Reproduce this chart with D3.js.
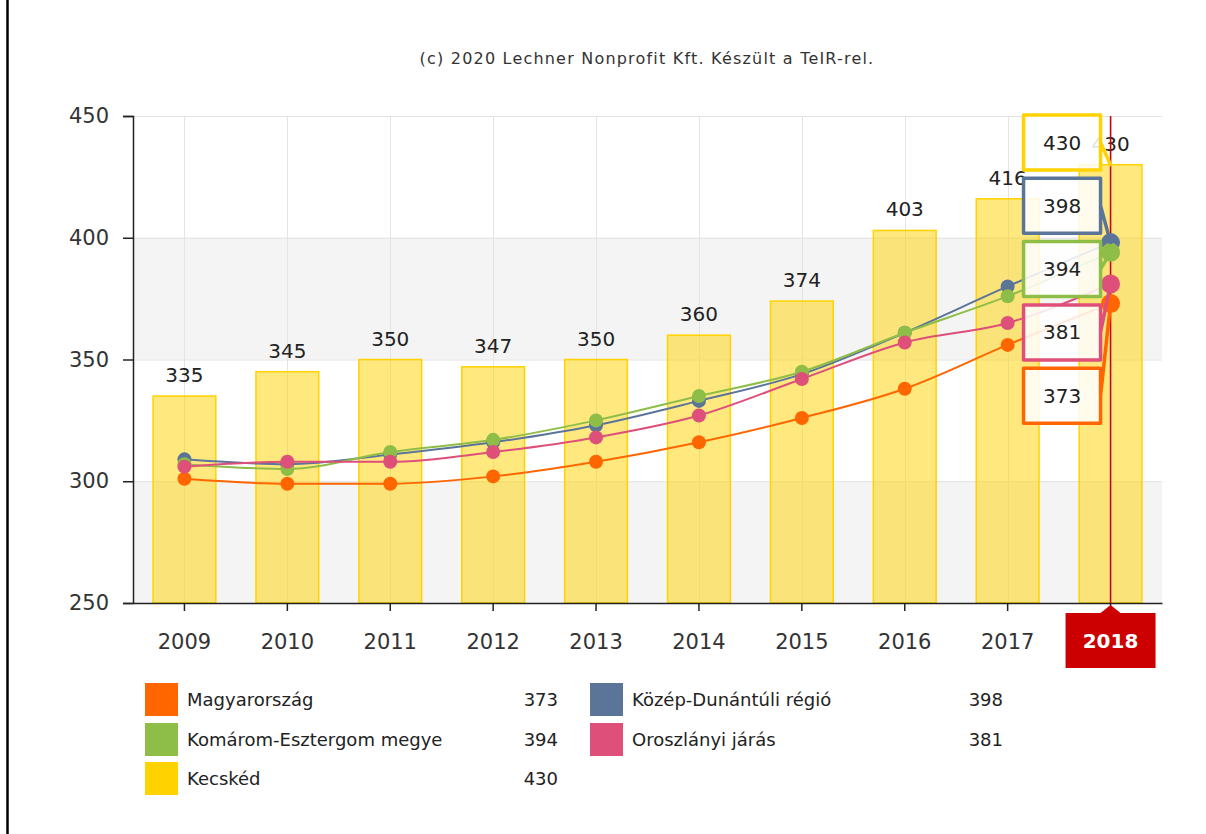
<!DOCTYPE html>
<html>
<head>
<meta charset="utf-8">
<script src="https://cdn.jsdelivr.net/npm/d3@7"></script>
<style>
  body { margin: 0; background: #fff; }
  svg { display: block; }
  text { font-family: "DejaVu Sans", Verdana, sans-serif; }
</style>
</head>
<body>
<svg id="chart" width="1206" height="834"></svg>
<script>
// ---- data ----
const years = ["2009", "2010", "2011", "2012", "2013", "2014", "2015", "2016", "2017", "2018"];
const kecsked = [335, 345, 350, 347, 350, 360, 374, 403, 416, 430];
const magyarorszag = [301, 299, 299, 302, 308, 316, 326, 338, 356, 373];
const kozepDunantuli = [309, 307, 311, 316, 323, 333, 344, 361, 380, 398];
const komarom = [307, 305, 312, 317, 325, 335, 345, 361, 376, 394];
const oroszlany = [306, 308, 308, 312, 318, 327, 342, 357, 365, 381];
const yTicks = [250, 300, 350, 400, 450];
const titleText = "(c) 2020 Lechner Nonprofit Kft. Készült a TeIR-rel.";
const activeYear = "2018";

// line series, in drawing order
const lineSeries = [
  { name: "Magyarország", values: magyarorszag, color: "#ff6600" },
  { name: "Közép-Dunántúli régió", values: kozepDunantuli, color: "#5b7599" },
  { name: "Komárom-Esztergom megye", values: komarom, color: "#8fbe48" },
  { name: "Oroszlányi járás", values: oroszlany, color: "#de4f7a" }
];
const barSeries = { name: "Kecskéd", values: kecsked, color: "#ffd200" };

// legend order (row by row, two columns)
const legendItems = [lineSeries[0], lineSeries[1], lineSeries[2], lineSeries[3], barSeries];

// ---- layout ----
const svg = d3.select("#chart");
const plot = { left: 133, right: 1162, top: 116, bottom: 603 };

const x = d3.scaleBand().domain(years).range([plot.left, plot.right]).paddingInner(0.39).paddingOuter(0.195);
const xc = d => x(d) + x.bandwidth() / 2;
const y = d3.scaleLinear().domain([250, 450]).range([plot.bottom, plot.top]);
const activeIdx = years.indexOf(activeYear);

// left frame line
svg.append("line").attr("x1", 7.5).attr("x2", 7.5).attr("y1", 0).attr("y2", 834)
  .attr("stroke", "#000").attr("stroke-width", 2.5);

// credit line
svg.append("text").attr("x", 647).attr("y", 64).attr("text-anchor", "middle")
  .attr("font-size", 16).attr("letter-spacing", 1.2).attr("fill", "#333").text(titleText);

// alternating bands
for (let i = 0; i < yTicks.length - 1; i++) {
  if (i % 2 === 0) {
    svg.append("rect")
      .attr("x", plot.left).attr("width", plot.right - plot.left)
      .attr("y", y(yTicks[i + 1])).attr("height", y(yTicks[i]) - y(yTicks[i + 1]))
      .attr("fill", "#f4f4f4");
  }
}
// horizontal grid
svg.append("g").selectAll("line").data(yTicks.slice(1)).join("line")
  .attr("x1", plot.left).attr("x2", plot.right)
  .attr("y1", d => y(d) + 0.5).attr("y2", d => y(d) + 0.5)
  .attr("stroke", "#e2e2e2").attr("stroke-width", 1);
// vertical grid through category centres
svg.append("g").selectAll("line").data(years).join("line")
  .attr("x1", d => Math.round(xc(d)) + 0.5).attr("x2", d => Math.round(xc(d)) + 0.5)
  .attr("y1", plot.top).attr("y2", plot.bottom)
  .attr("stroke", "#e4e4e4").attr("stroke-width", 1);

// bars
svg.append("g").selectAll("rect").data(years).join("rect")
  .attr("x", d => x(d)).attr("width", x.bandwidth())
  .attr("y", (d, i) => y(barSeries.values[i]))
  .attr("height", (d, i) => plot.bottom - y(barSeries.values[i]))
  .attr("fill", "rgba(255,212,0,0.5)")
  .attr("stroke", "#ffd200").attr("stroke-width", 1.5);

// bar value labels
svg.append("g").selectAll("text").data(years).join("text")
  .attr("x", d => xc(d)).attr("y", (d, i) => y(barSeries.values[i]) - 14)
  .attr("text-anchor", "middle").attr("font-size", 20).attr("fill", "#222")
  .text((d, i) => barSeries.values[i]);

// axes
const yAxis = d3.axisLeft(y).tickValues(yTicks).tickSize(10).tickPadding(14);
const gy = svg.append("g").attr("transform", `translate(${plot.left},0)`).call(yAxis);
gy.select(".domain").attr("stroke", "#222").attr("stroke-width", 1.5);
gy.selectAll(".tick line").attr("stroke", "#222").attr("stroke-width", 1.5);
gy.selectAll(".tick text").attr("font-size", 21).attr("fill", "#333")
  .attr("font-family", "DejaVu Sans, sans-serif");

const xAxis = d3.axisBottom(x).tickSize(8).tickPadding(23).tickSizeOuter(0);
const gx = svg.append("g").attr("transform", `translate(0,${plot.bottom})`).call(xAxis);
gx.select(".domain").attr("stroke", "#222").attr("stroke-width", 1.5);
gx.selectAll(".tick line").attr("stroke", "#222").attr("stroke-width", 1.5);
gx.selectAll(".tick text").attr("font-size", 21).attr("fill", "#333")
  .attr("font-family", "DejaVu Sans, sans-serif");
// the active category is labelled by the crosshair flag instead
gx.selectAll(".tick text").filter(d => d === activeYear).remove();

// crosshair on the active category
svg.append("line")
  .attr("x1", xc(activeYear)).attr("x2", xc(activeYear))
  .attr("y1", plot.top).attr("y2", plot.bottom)
  .attr("stroke", "#cc0000").attr("stroke-width", 1.5);

// spline lines and markers
const line = d3.line().x((d, i) => xc(years[i])).y(d => y(d)).curve(d3.curveMonotoneX);
lineSeries.forEach(s => {
  svg.append("path").attr("d", line(s.values))
    .attr("fill", "none").attr("stroke", s.color).attr("stroke-width", 2);
  svg.append("g").selectAll("circle").data(s.values).join("circle")
    .attr("cx", (d, i) => xc(years[i])).attr("cy", d => y(d))
    .attr("r", (d, i) => i === activeIdx ? 9.5 : 7)
    .attr("fill", s.color);
});

// crosshair flag under the x axis
const cx = xc(activeYear);
const lab = { w: 90, h: 55, top: plot.bottom + 10 };
svg.append("path")
  .attr("d", `M${cx - lab.w / 2},${lab.top} L${cx - 10},${lab.top} L${cx},${plot.bottom + 2} L${cx + 10},${lab.top} L${cx + lab.w / 2},${lab.top} L${cx + lab.w / 2},${lab.top + lab.h} L${cx - lab.w / 2},${lab.top + lab.h} Z`)
  .attr("fill", "#cc0000");
svg.append("text").attr("x", cx).attr("y", lab.top + lab.h / 2 + 7)
  .attr("text-anchor", "middle").attr("font-size", 20).attr("font-weight", "bold")
  .attr("fill", "#fff").text(activeYear);

// split tooltip callouts, one per series, stacked left of the crosshair
const tips = [
  { value: barSeries.values[activeIdx], color: barSeries.color },
  ...lineSeries.map(s => ({ value: s.values[activeIdx], color: s.color }))
].map(t => ({ ...t, anchorY: y(t.value) }))
 .sort((a, b) => a.anchorY - b.anchorY);

const boxH = 55, slot = 63.3, boxW = 77, boxRight = cx - 10;
// place boxes centred on anchors, then merge overlapping groups
let groups = tips.map(t => ({ items: [t], center: t.anchorY }));
let merged = true;
while (merged) {
  merged = false;
  for (let i = 0; i < groups.length - 1; i++) {
    const a = groups[i], b = groups[i + 1];
    const aBottom = a.center + a.items.length * slot / 2;
    const bTop = b.center - b.items.length * slot / 2;
    if (aBottom > bTop) {
      const items = a.items.concat(b.items);
      const center = d3.mean(items, t => t.anchorY);
      groups.splice(i, 2, { items, center });
      merged = true;
      break;
    }
  }
}
groups.forEach(g => {
  let top = g.center - g.items.length * slot / 2;
  top = Math.max(top, plot.top - 1);
  g.items.forEach((t, k) => { t.top = top + k * slot; });
});

const tipLayer = svg.append("g");
tips.forEach(t => {
  const x0 = boxRight - boxW, x1 = boxRight, y0 = t.top, y1 = t.top + boxH;
  const ym = y0 + boxH / 2;
  const d = `M${x0},${y0} L${x1},${y0} L${x1},${ym} L${cx},${t.anchorY} L${x1},${ym} L${x1},${y1} L${x0},${y1} Z`;
  tipLayer.append("path").attr("d", d)
    .attr("fill", "rgba(255,255,255,0.86)")
    .attr("stroke", t.color).attr("stroke-width", 3.5).attr("stroke-linejoin", "round");
  tipLayer.append("text").attr("x", (x0 + x1) / 2).attr("y", ym + 7)
    .attr("text-anchor", "middle").attr("font-size", 20).attr("fill", "#222")
    .text(t.value);
});

// legend
const legend = svg.append("g");
const colX = [145, 590], valX = [558, 1003], rowY = [683, 723, 762];
legendItems.forEach((s, i) => {
  const col = i % 2, row = Math.floor(i / 2);
  legend.append("rect").attr("x", colX[col]).attr("y", rowY[row])
    .attr("width", 33).attr("height", 33).attr("fill", s.color);
  legend.append("text").attr("x", colX[col] + 42).attr("y", rowY[row] + 23)
    .attr("font-size", 18).attr("fill", "#222").text(s.name);
  legend.append("text").attr("x", valX[col]).attr("y", rowY[row] + 23)
    .attr("text-anchor", "end").attr("font-size", 18).attr("fill", "#222")
    .text(s.values[s.values.length - 1]);
});
</script>
</body>
</html>
